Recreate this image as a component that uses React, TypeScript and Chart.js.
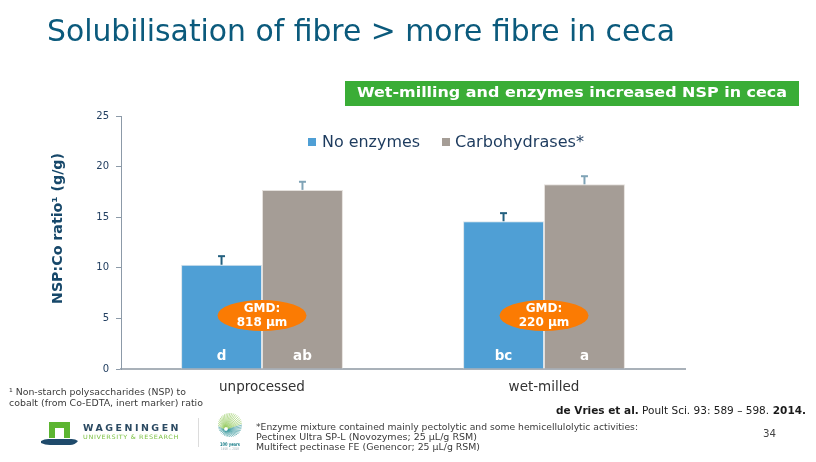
import React, { useEffect, useRef } from 'react';
import { Chart, registerables } from 'chart.js';

Chart.register(...registerables);

// ---- data ----
const categories = ['unprocessed', 'wet-milled'];
const seriesNames = ['No enzymes', 'Carbohydrases*'];
const noEnzymes = [10.3, 14.6];
const carbohydrases = [17.7, 18.25];
const noEnzymesErr = [0.85, 0.8];
const carbohydrasesErr = [0.8, 0.8];
const noEnzymesLetters = ['d', 'bc'];
const carbohydrasesLetters = ['ab', 'a'];
const gmdLabels = ['818 \u03bcm', '220 \u03bcm'];
const yMin = 0;
const yMax = 25;
const yStep = 5;

const BLUE = '#4f9fd5';
const GREY = '#a59d96';
const FONT = '"DejaVu Sans", Verdana, sans-serif';

type Align = 'left' | 'center' | 'right';

// Draw text squeezed/stretched horizontally to a given width
function fitText(ctx: CanvasRenderingContext2D, text: string, x: number, y: number, w: number, align: Align = 'left') {
  const natural = ctx.measureText(text).width || 1;
  const s = w / natural;
  const x0 = align === 'center' ? x - w / 2 : align === 'right' ? x - w : x;
  ctx.save();
  ctx.textAlign = 'left';
  ctx.translate(x0, y);
  ctx.scale(s, 1);
  ctx.fillText(text, 0, 0);
  ctx.restore();
}

const errors = [noEnzymesErr, carbohydrasesErr];
const errColors = ['#23607f', '#7fa3b6'];
const letters = [noEnzymesLetters, carbohydrasesLetters];

const decorPlugin = {
  id: 'slideDecor',
  afterDatasetsDraw(chart: any) {
    const ctx: CanvasRenderingContext2D = chart.ctx;
    const yScale = chart.scales.y;
    const area = chart.chartArea;
    ctx.save();
    // error bars (upper half only)
    chart.data.datasets.forEach((ds: any, di: number) => {
      const meta = chart.getDatasetMeta(di);
      meta.data.forEach((bar: any, j: number) => {
        const v = ds.data[j];
        const top = yScale.getPixelForValue(v + errors[di][j]);
        const base = yScale.getPixelForValue(v);
        ctx.strokeStyle = errColors[di];
        ctx.lineWidth = 2;
        ctx.beginPath();
        ctx.moveTo(bar.x, base);
        ctx.lineTo(bar.x, top);
        ctx.stroke();
        ctx.beginPath();
        ctx.moveTo(bar.x - 3.5, top);
        ctx.lineTo(bar.x + 3.5, top);
        ctx.stroke();
      });
    });
    // significance letters inside bars
    ctx.fillStyle = '#ffffff';
    ctx.font = `bold 13.5px ${FONT}`;
    ctx.textAlign = 'center';
    ctx.textBaseline = 'middle';
    chart.data.datasets.forEach((_ds: any, di: number) => {
      const meta = chart.getDatasetMeta(di);
      meta.data.forEach((bar: any, j: number) => {
        ctx.fillText(letters[di][j], bar.x, area.bottom - 13);
      });
    });
    // GMD bubbles between the paired bars
    const m0 = chart.getDatasetMeta(0);
    const m1 = chart.getDatasetMeta(1);
    categories.forEach((_c, j) => {
      const cx = (m0.data[j].x + m1.data[j].x) / 2;
      const cy = area.bottom - 53.5;
      ctx.fillStyle = '#fb7b03';
      ctx.beginPath();
      ctx.ellipse(cx, cy, 44.5, 15.5, 0, 0, Math.PI * 2);
      ctx.fill();
      ctx.fillStyle = '#ffffff';
      ctx.font = `bold 12px ${FONT}`;
      ctx.fillText('GMD:', cx, cy - 7);
      ctx.fillText(gmdLabels[j], cx, cy + 7.5);
    });
    ctx.restore();
  },
  afterDraw(chart: any) {
    const ctx: CanvasRenderingContext2D = chart.ctx;
    ctx.save();
    ctx.textBaseline = 'alphabetic';

    // slide title
    ctx.fillStyle = '#0b5a7c';
    ctx.font = `29.5px ${FONT}`;
    fitText(ctx, 'Solubilisation of fibre > more fibre in ceca', 47, 41, 628);

    // green banner
    ctx.fillStyle = '#3aad36';
    ctx.fillRect(345, 81, 454, 25);
    ctx.fillStyle = '#ffffff';
    ctx.font = `bold 14px ${FONT}`;
    ctx.textBaseline = 'middle';
    fitText(ctx, 'Wet-milling and enzymes increased NSP in ceca', 357, 93.5, 430);

    // legend
    const ds = chart.data.datasets;
    ctx.font = `16px ${FONT}`;
    ctx.fillStyle = ds[0].backgroundColor;
    ctx.fillRect(308, 138, 8, 8);
    ctx.fillStyle = ds[1].backgroundColor;
    ctx.fillRect(442, 138, 8, 8);
    ctx.fillStyle = '#1d3b5e';
    fitText(ctx, ds[0].label, 322, 142.5, 98);
    fitText(ctx, ds[1].label, 455, 142.5, 129);

    // y-axis title
    ctx.save();
    ctx.translate(58, 228.5);
    ctx.rotate(-Math.PI / 2);
    ctx.fillStyle = '#17486a';
    ctx.font = `bold 14px ${FONT}`;
    fitText(ctx, 'NSP:Co ratio\u00b9 (g/g)', 0, 0, 151, 'center');
    ctx.restore();

    // footnote on the ratio
    ctx.fillStyle = '#3a3a3a';
    ctx.font = `9px ${FONT}`;
    fitText(ctx, '\u00b9 Non-starch polysaccharides (NSP) to', 9, 393, 177);
    fitText(ctx, 'cobalt (from Co-EDTA, inert marker) ratio', 9, 403.5, 194);

    // reference
    const segs: [string, boolean][] = [
      ['de Vries et al.', true],
      [' Poult Sci. 93: 589 \u2013 598.', false],
      [' 2014.', true],
    ];
    let total = 0;
    segs.forEach(([t, b]) => {
      ctx.font = `${b ? 'bold ' : ''}10px ${FONT}`;
      total += ctx.measureText(t).width;
    });
    const sc = 250 / total;
    let xx = 556;
    ctx.fillStyle = '#1a1a1a';
    segs.forEach(([t, b]) => {
      ctx.font = `${b ? 'bold ' : ''}10px ${FONT}`;
      const w = ctx.measureText(t).width * sc;
      fitText(ctx, t, xx, 411, w);
      xx += w;
    });

    // enzyme note
    ctx.fillStyle = '#3a3a3a';
    ctx.font = `9px ${FONT}`;
    fitText(ctx, '*Enzyme mixture contained mainly pectolytic and some hemicellulolytic activities:', 256, 427.5, 382);
    fitText(ctx, 'Pectinex Ultra SP-L (Novozymes; 25 \u00b5L/g RSM)', 256, 437.5, 221);
    fitText(ctx, 'Multifect pectinase FE (Genencor; 25 \u00b5L/g RSM)', 256, 447.5, 224);

    // slide number
    ctx.font = `10.5px ${FONT}`;
    ctx.fillStyle = '#444444';
    fitText(ctx, '34', 763, 434, 13);

    // university logo
    ctx.fillStyle = '#5cb531';
    ctx.fillRect(49, 422, 21, 16);
    ctx.fillStyle = '#ffffff';
    ctx.fillRect(55, 428, 9, 10);
    ctx.fillStyle = '#1f4a6b';
    ctx.beginPath();
    ctx.moveTo(41, 441);
    ctx.quadraticCurveTo(45, 438.5, 50, 439);
    ctx.lineTo(70, 439);
    ctx.quadraticCurveTo(75, 438.5, 78, 441);
    ctx.quadraticCurveTo(75, 445, 70, 445);
    ctx.lineTo(50, 445);
    ctx.quadraticCurveTo(45, 445, 41, 443);
    ctx.closePath();
    ctx.fill();

    ctx.fillStyle = '#2b4a62';
    ctx.font = `bold 9.5px ${FONT}`;
    (ctx as any).letterSpacing = '2.5px';
    fitText(ctx, 'WAGENINGEN', 83, 428.5, 98);
    ctx.fillStyle = '#7cc143';
    ctx.font = `6px ${FONT}`;
    (ctx as any).letterSpacing = '0.6px';
    fitText(ctx, 'UNIVERSITY & RESEARCH', 83, 437.5, 96);
    (ctx as any).letterSpacing = '0px';

    // divider
    ctx.strokeStyle = '#dcdcdc';
    ctx.lineWidth = 1;
    ctx.beginPath();
    ctx.moveTo(198.5, 418);
    ctx.lineTo(198.5, 447);
    ctx.stroke();

    // centenary emblem
    const ex = 230;
    const ey = 425;
    for (let i = 0; i < 40; i++) {
      const a = (i / 40) * Math.PI * 2;
      const t = i / 40;
      ctx.strokeStyle = t < 0.5 ? '#1c8a8f' : '#86c44a';
      ctx.globalAlpha = 0.8;
      ctx.lineWidth = 0.7;
      ctx.beginPath();
      ctx.moveTo(ex - 4 + Math.cos(a) * 2, ey + 4 + Math.sin(a) * 2);
      ctx.lineTo(ex + Math.cos(a) * 12, ey + Math.sin(a) * 12);
      ctx.stroke();
    }
    ctx.globalAlpha = 1;
    ctx.fillStyle = '#1c7f8a';
    ctx.font = `bold 5px ${FONT}`;
    fitText(ctx, '100 years', ex, 444.5, 20, 'center');
    ctx.fillStyle = '#9aaab0';
    ctx.font = `3.5px ${FONT}`;
    fitText(ctx, '1918 \u2014 2018', ex, 449, 18, 'center');

    ctx.restore();
  },
};

export default function App() {
  const canvasRef = useRef<HTMLCanvasElement | null>(null);

  useEffect(() => {
    const canvas = canvasRef.current;
    if (!canvas) return;
    Chart.defaults.font.family = FONT;
    const chart = new Chart(canvas, {
      type: 'bar',
      data: {
        labels: categories,
        datasets: [
          {
            label: seriesNames[0],
            data: noEnzymes,
            backgroundColor: BLUE,
            borderColor: '#d9e4ec',
            borderWidth: 1,
            barPercentage: 1,
            categoryPercentage: 0.574,
          },
          {
            label: seriesNames[1],
            data: carbohydrases,
            backgroundColor: GREY,
            borderColor: '#e4e0dc',
            borderWidth: 1,
            barPercentage: 1,
            categoryPercentage: 0.574,
          },
        ],
      },
      options: {
        responsive: false,
        animation: false,
        events: [],
        layout: { padding: { left: 40, right: 131, top: 116, bottom: 63 } },
        plugins: {
          legend: { display: false },
          title: { display: false },
          tooltip: { enabled: false },
        },
        scales: {
          x: {
            grid: { display: false, drawTicks: false },
            border: { display: true, color: '#a9b1b9', width: 2 },
            ticks: {
              color: '#333333',
              font: { size: 13.5, family: FONT },
              padding: 10,
            },
            afterFit: (scale: any) => {
              scale.height = 30;
            },
          },
          y: {
            min: yMin,
            max: yMax,
            ticks: {
              stepSize: yStep,
              color: '#223f61',
              font: { size: 10, family: FONT },
              padding: 7,
            },
            grid: {
              drawOnChartArea: false,
              drawTicks: true,
              tickLength: 5,
              color: '#8c9aa8',
            },
            border: { display: true, color: '#8c9aa8', width: 1 },
            afterFit: (scale: any) => {
              scale.width = 81;
            },
          },
        },
      },
      plugins: [decorPlugin],
    });
    return () => chart.destroy();
  }, []);

  return (
    <div style={{ position: 'absolute', left: 0, top: 0, width: 816, height: 462, background: '#ffffff', overflow: 'hidden' }}>
      <canvas ref={canvasRef} width={816} height={462} style={{ display: 'block', width: 816, height: 462 }} />
    </div>
  );
}
